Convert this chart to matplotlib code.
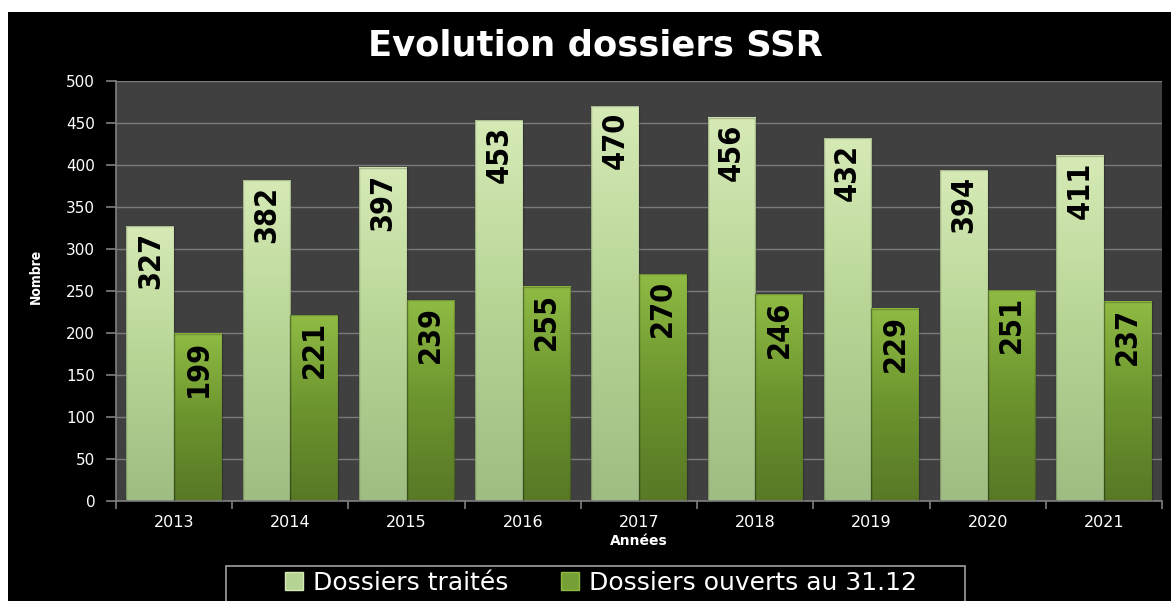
import numpy as np
import matplotlib.pyplot as plt
from matplotlib.patches import Rectangle, Patch
from matplotlib.colors import LinearSegmentedColormap

years = ['2013', '2014', '2015', '2016', '2017', '2018', '2019', '2020', '2021']
traites = [327, 382, 397, 453, 470, 456, 432, 394, 411]
ouverts = [199, 221, 239, 255, 270, 246, 229, 251, 237]

W, H = 1171, 601
fig = plt.figure(figsize=(W / 100, H / 100), dpi=100, facecolor='white')
# black chart frame
fig.patches.append(Rectangle((8 / W, 0), 1, 1 - 12 / H, transform=fig.transFigure,
                             facecolor='black', edgecolor='none', zorder=-10))

ax = fig.add_axes([116 / W, 1 - 501 / H, (1162 - 116) / W, (501 - 81) / H])
ax.set_facecolor('#404040')

x = np.arange(len(years))
bw = 0.41
light_cmap = LinearSegmentedColormap.from_list('l', ['#9fbd82', '#b6d494', '#d6eab6'])
dark_cmap = LinearSegmentedColormap.from_list('d', ['#587826', '#6c942e', '#8fbb44'])

b1 = ax.bar(x - bw / 2, traites, bw, color='#b5d392', zorder=2)
b2 = ax.bar(x + bw / 2, ouverts, bw, color='#76a035', zorder=2)

grad = np.linspace(0, 1, 256).reshape(-1, 1)
for bars, cmap in ((b1, light_cmap), (b2, dark_cmap)):
    for r in bars:
        x0, w, h = r.get_x(), r.get_width(), r.get_height()
        ax.imshow(grad, cmap=cmap, origin='lower', aspect='auto',
                  extent=(x0, x0 + w, 0, h), zorder=2.5)
        ax.add_patch(Rectangle((x0, 0), w, h, facecolor='none',
                               edgecolor=(0, 0, 0, 0.2), lw=1.0, zorder=3))
        ax.text(x0 + w / 2, h - 7, str(int(h)), rotation=90, ha='center', va='top',
                fontsize=22, fontweight='bold', fontstretch='condensed',
                color='black', zorder=4, family='DejaVu Sans')

ax.set_xlim(-0.5, len(years) - 0.5)
ax.set_ylim(0, 500)
ax.set_yticks(range(0, 501, 50))
ax.yaxis.grid(True, color='#7a7a7a', lw=1.0, zorder=1)
ax.set_axisbelow(True)

ax.set_xticks(x)
ax.set_xticklabels(years)
ax.set_xticks(np.arange(-0.5, len(years)), minor=True)
ax.tick_params(axis='x', which='major', length=0, pad=10, labelsize=11.5, labelcolor='white')
ax.tick_params(axis='x', which='minor', length=6, color='#808080', width=1.2)
ax.tick_params(axis='y', length=7, color='#808080', width=1.2, labelsize=11,
               labelcolor='white', pad=8)

for s in ['top', 'right']:
    ax.spines[s].set_visible(False)
for s in ['left', 'bottom']:
    ax.spines[s].set_color('#808080')
    ax.spines[s].set_linewidth(1.2)

ax.set_xlabel('Années', color='white', fontsize=10, fontweight='bold', labelpad=3)
fig.text(36 / W, 1 - 276 / H, 'Nombre', rotation=90, ha='center', va='center',
         color='white', fontsize=10, fontweight='bold', fontstretch='condensed')

fig.text(595 / W, 1 - 55 / H, 'Evolution dossiers SSR', ha='center', va='baseline',
         color='white', fontsize=25.5, fontweight='bold')

# legend box drawn by hand (wide side padding)
fig.patches.append(Rectangle((226 / W, -0.05), (965 - 226) / W, 0.05 + 1 - 566 / H,
                             transform=fig.transFigure, facecolor='black',
                             edgecolor='#a0a0a0', lw=1.2, zorder=4))
handles = [Patch(facecolor='#b5d392', edgecolor='#d6eab6'),
           Patch(facecolor='#76a035', edgecolor='#8fbb44')]
leg = fig.legend(handles, ['Dossiers traités', 'Dossiers ouverts au 31.12'],
                 loc='center', bbox_to_anchor=(601 / W, 1 - 583 / H), ncol=2,
                 frameon=False, prop={'size': 18}, labelcolor='white',
                 handlelength=0.72, handleheight=0.72, handletextpad=0.4,
                 columnspacing=2.1, borderpad=0, borderaxespad=0)
leg.set_zorder(5)

fig.savefig('out.png', dpi=100, facecolor=fig.get_facecolor())
